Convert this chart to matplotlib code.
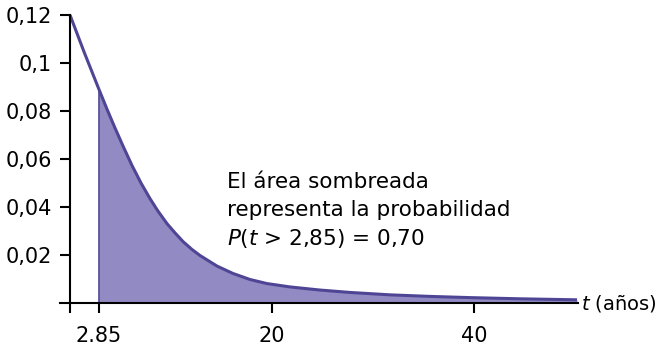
import matplotlib
matplotlib.use('Agg')
import matplotlib.pyplot as plt

# curve: t (years) and density
t_vals = [0, 1.43, 2.85, 3.66, 4.46, 5.25, 6.14, 7.03, 7.92, 8.71, 9.6, 10.4,
          11.19, 12.08, 12.87, 14.55, 16.14, 17.82, 19.5, 21.78, 24.75, 27.72,
          31.68, 35.64, 39.6, 44.55, 50.2]
dens = [0.12, 0.1042, 0.0892, 0.0808, 0.0729, 0.0654, 0.0573, 0.05, 0.0435, 0.0383,
        0.0331, 0.0292, 0.0256, 0.0223, 0.0198, 0.0154, 0.0123, 0.0098, 0.0081,
        0.0067, 0.0054, 0.0044, 0.0034, 0.00275, 0.00225, 0.00175, 0.00133]

t_cut = 2.85
x_ticks = [0, 2.85, 20, 40]
x_labels = ['', '2.85', '20', '40']
y_ticks = [0.02, 0.04, 0.06, 0.08, 0.1, 0.12]
y_labels = ['0,02', '0,04', '0,06', '0,08', '0,1', '0,12']

line_col = '#4e4695'
fill_col = '#918ac3'

fig = plt.figure(figsize=(6.59, 3.51), dpi=100)
ax = fig.add_axes([60 / 659, 48 / 351, 518 / 659, 288 / 351])

i0 = t_vals.index(t_cut)
ax.fill_between(t_vals[i0:], dens[i0:], 0, color=fill_col, lw=0)
ax.plot([t_cut, t_cut], [0, dens[i0]], color=line_col, lw=1.2)
ax.plot(t_vals, dens, color=line_col, lw=2.2, clip_on=False,
        solid_capstyle='butt', solid_joinstyle='round')

ax.set_xlim(-0.99, 50.3)
ax.set_ylim(0, 0.12)

for s in ['top', 'right']:
    ax.spines[s].set_visible(False)
ax.spines['left'].set_position(('data', 0))
for s in ['left', 'bottom']:
    ax.spines[s].set_linewidth(1.5)
    ax.spines[s].set_zorder(5)

ax.set_xticks(x_ticks)
ax.set_xticklabels(x_labels)
ax.set_yticks(y_ticks)
ax.set_yticklabels(y_labels)
ax.tick_params(axis='both', length=7.2, width=1.5, labelsize=15)
ax.tick_params(axis='x', pad=9.5)
ax.tick_params(axis='y', pad=6)

ax.text(15.5, 0.0479, 'El área sombreada', fontsize=15.5)
ax.text(15.5, 0.0363, 'representa la probabilidad', fontsize=15.5)
ax.text(15.5, 0.0242, r'$P$($t$ > 2,85) = 0,70', fontsize=15.5)

ax.text(50.55, 0, r'$t$ (años)', fontsize=14, va='center', ha='left', clip_on=False)

fig.savefig('out.png', dpi=100)
